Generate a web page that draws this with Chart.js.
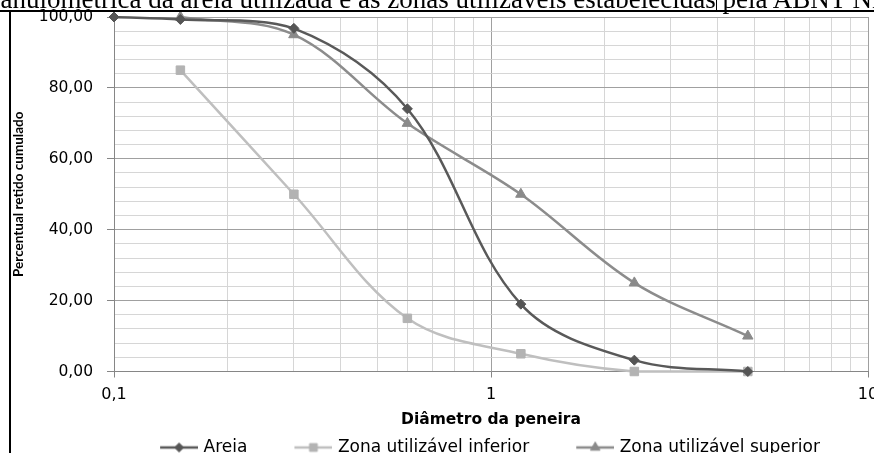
<!DOCTYPE html>
<html><head><meta charset="utf-8">
<script src="https://cdn.jsdelivr.net/npm/chart.js@4/dist/chart.umd.min.js"></script>
<style>
html,body{margin:0;padding:0;width:874px;height:453px;overflow:hidden;background:#fff;}
#wrap{position:absolute;left:0;top:0;width:932px;height:466px;}
#title{position:absolute;left:-22px;top:-14px;font-family:"Liberation Serif",serif;font-size:27px;line-height:27px;white-space:nowrap;color:#000;}
#hline{position:absolute;left:0;top:10px;width:874px;height:2px;background:#000;}
#vline{position:absolute;left:9px;top:10px;width:2px;height:443px;background:#000;}
#vtick{position:absolute;left:716px;top:0;width:1px;height:11px;background:#000;}
</style></head><body>
<div id="wrap"><canvas id="c" width="932" height="466"></canvas></div>
<div id="title">granulométrica da areia utilizada e as zonas utilizáveis estabelecidas pela ABNT NBR 7211</div>
<div id="hline"></div><div id="vline"></div><div id="vtick"></div>
<script>
// ---- data ----
const seriesNames = ['Areia', 'Zona utilizável inferior', 'Zona utilizável superior'];
const diametrosAreia = [0.1, 0.15, 0.3, 0.6, 1.2, 2.4, 4.8];
const areia = [100, 99.3, 96.8, 74.1, 19.0, 3.2, 0];
const diametrosZonas = [0.15, 0.3, 0.6, 1.2, 2.4, 4.8];
const zonaInferior = [85, 50, 15, 5, 0, 0];
const zonaSuperior = [100, 95, 70, 50, 25, 10];
const xTickValues = [0.1,0.2,0.3,0.4,0.5,0.6,0.7,0.8,0.9,1,2,3,4,5,6,7,8,9,10];
const xLabelValues = [0.1, 1, 10];
const xLabelTexts = ['0,1', '1', '10'];
const yMin = 0, yMax = 100, yStep = 4, yLabelStep = 20;
const xTitle = 'Diâmetro da peneira';
const yTitle = 'Percentual retido cumulado';

// ---- styles ----
const colors = ['#595959', '#bfbfbf', '#8c8c8c'];
const markerColors = ['#555555', '#b3b3b3', '#8a8a8a'];
const markerStyles = ['rectRot', 'rect', 'triangle'];
const markerRadii = [5, 6, 6];
const majorGrid = '#a0a0a0', minorGrid = '#d6d6d6', axisCol = '#868686';
const symLen = 38, symMargin = 34, symShift = 3;

function isDecade(v){ const l = Math.log10(v); return Math.abs(l - Math.round(l)) < 1e-9; }
function xLabel(v){ for (let i=0;i<xLabelValues.length;i++){ if (Math.abs(xLabelValues[i]-v) < 1e-9) return xLabelTexts[i]; } return ''; }

function makeSymbol(i){
  const c = document.createElement('canvas');
  c.width = symMargin + symLen + 2*symShift; c.height = 14;
  const g = c.getContext('2d');
  const x0 = symMargin + 2*symShift;
  g.strokeStyle = colors[i]; g.lineWidth = 2.5;
  g.beginPath(); g.moveTo(x0, 7); g.lineTo(x0 + symLen, 7); g.stroke();
  g.fillStyle = markerColors[i]; g.strokeStyle = markerColors[i]; g.lineWidth = 1;
  Chart.helpers.drawPoint(g, {pointStyle: markerStyles[i], radius: markerRadii[i]-0.5, rotation: 0, borderWidth: 1}, x0 + symLen/2, 7);
  return c;
}
const symbols = [0,1,2].map(makeSymbol);

const pointsOf = (xs, ys) => xs.map((x, i) => ({x: x, y: ys[i]}));
const seriesData = [pointsOf(diametrosAreia, areia), pointsOf(diametrosZonas, zonaInferior), pointsOf(diametrosZonas, zonaSuperior)];

const datasets = seriesData.map((d, i) => ({
  label: seriesNames[i], data: d,
  borderColor: colors[i], backgroundColor: colors[i], borderWidth: 2.5,
  pointStyle: markerStyles[i], pointRadius: markerRadii[i],
  pointBackgroundColor: markerColors[i], pointBorderColor: markerColors[i], pointBorderWidth: 1,
  tension: 0.35, fill: false, clip: false
}));

new Chart(document.getElementById('c'), {
  type: 'line',
  data: { datasets: datasets },
  options: {
    responsive: false, animation: false, devicePixelRatio: 1, events: [],
    layout: { padding: { left: 11, top: 17, right: 0, bottom: 0 } },
    scales: {
      x: {
        type: 'logarithmic', position: 'bottom', min: xTickValues[0], max: xTickValues[xTickValues.length-1],
        afterBuildTicks: s => { s.ticks = xTickValues.map(v => ({value: v, major: isDecade(v)})); },
        afterFit: s => { s.height = 57.5; },
        ticks: { autoSkip: false, maxRotation: 0, color: '#000', padding: 8,
                 font: { family: 'DejaVu Sans', size: 16 }, callback: v => xLabel(v) },
        grid: { color: c => (c.tick && isDecade(c.tick.value)) ? majorGrid : minorGrid, lineWidth: 1, tickLength: 6,
                tickColor: c => (c.tick && isDecade(c.tick.value)) ? axisCol : 'rgba(0,0,0,0)' },
        border: { color: axisCol, width: 1 },
        title: { display: true, text: xTitle, color: '#000', font: { family: 'DejaVu Sans', size: 15.5, weight: 'bold' }, padding: { top: 0, bottom: 0 } }
      },
      y: {
        type: 'linear', position: 'left', min: yMin, max: yMax,
        afterFit: s => { s.width = 103; s.paddingTop = 0; s.paddingBottom = 0; },
        ticks: { stepSize: yStep, autoSkip: false, color: '#000', padding: 14,
                 font: { family: 'DejaVu Sans', size: 15.5 },
                 callback: v => (v % yLabelStep === 0) ? v.toFixed(2).replace('.', ',') : '' },
        grid: { color: c => (c.tick && c.tick.value % yLabelStep === 0) ? majorGrid : minorGrid, lineWidth: 1, tickLength: 7,
                tickColor: c => (c.tick && c.tick.value % yLabelStep === 0) ? axisCol : 'rgba(0,0,0,0)' },
        border: { color: axisCol, width: 1 },
        title: { display: true, text: yTitle, color: '#000', font: { family: 'Lato', size: 13.5, weight: 'bold' }, padding: 0 }
      },
      y2: {
        type: 'linear', position: 'right', display: true,
        afterFit: s => { s.width = 64; s.paddingTop = 0; s.paddingBottom = 0; },
        ticks: { display: false }, grid: { display: false, drawTicks: false }, border: { display: false }
      }
    },
    plugins: {
      legend: {
        display: true, position: 'bottom', align: 'center',
        labels: {
          usePointStyle: true, pointStyleWidth: symMargin + symLen, padding: 10, color: '#000',
          font: { family: 'DejaVu Sans', size: 17 },
          generateLabels: chart => {
            const items = Chart.defaults.plugins.legend.labels.generateLabels(chart);
            items.forEach((it, i) => { it.pointStyle = symbols[i]; });
            return items;
          }
        }
      },
      tooltip: { enabled: false }
    }
  }
});
</script>
</body></html>
